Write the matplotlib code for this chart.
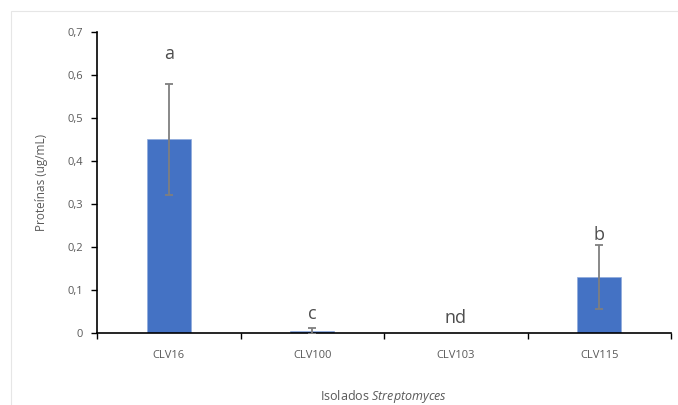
import numpy as np
import matplotlib
matplotlib.use("Agg")
import matplotlib.pyplot as plt
from matplotlib.patches import Rectangle

categories = ["CLV16", "CLV100", "CLV103", "CLV115"]
values = [0.45, 0.005, 0.0, 0.13]
errors = [0.128, 0.007, 0.0, 0.075]
letters = ["a", "c", "nd", "b"]
letter_y = [0.648, 0.045, 0.035, 0.228]
yticks = [0, 0.1, 0.2, 0.3, 0.4, 0.5, 0.6, 0.7]
ytick_labels = ["0", "0,1", "0,2", "0,3", "0,4", "0,5", "0,6", "0,7"]

plt.rcParams['font.family'] = ['Open Sans', 'DejaVu Sans']
plt.rcParams['mathtext.fontset'] = 'custom'
plt.rcParams['mathtext.it'] = 'Open Sans:italic'
plt.rcParams['mathtext.rm'] = 'Open Sans'

fig = plt.figure(figsize=(6.78, 4.05), dpi=100)
# faint chart-area border
fig.patches.append(Rectangle((11/678, -0.1), 1.2, 1 - 11/405 + 0.1, transform=fig.transFigure,
                             fill=False, edgecolor='#e6e6e6', lw=0.8))
ax = fig.add_axes([97/678, 1 - 333/405, (671 - 97)/678, (333 - 32)/405])

x = np.arange(len(categories))
ax.bar(x, values, width=0.31, color='#4472C4', edgecolor='#8faadc', linewidth=0.5, zorder=2)
ax.errorbar(x[[0, 1, 3]], np.array(values)[[0, 1, 3]], yerr=np.array(errors)[[0, 1, 3]],
            fmt='none', ecolor='#7f7f7f', elinewidth=1.3, capsize=3, capthick=1.3, zorder=3)
for xi, t, ly in zip(x, letters, letter_y):
    ax.text(xi, ly, t, ha='center', va='center', fontsize=13, color='#4d4d4d')

ax.set_xlim(-0.5, len(categories) - 0.5)
ax.set_ylim(0, 0.7)
ax.set_yticks(yticks)
ax.set_yticklabels(ytick_labels)
ax.set_xticks(x)
ax.set_xticklabels(categories)
ax.set_xticks(np.arange(-0.5, len(categories)), minor=True)
ax.tick_params(axis='x', which='major', length=0, pad=12, labelsize=8, labelcolor='#595959')
ax.tick_params(axis='x', which='minor', length=4, width=1, direction='out', color='black')
ax.tick_params(axis='y', length=4, width=1, direction='out', labelsize=8, labelcolor='#595959', pad=6)

for s in ['top', 'right']:
    ax.spines[s].set_visible(False)
for s in ['left', 'bottom']:
    ax.spines[s].set_linewidth(1.2)
    ax.spines[s].set_color('black')

ax.set_ylabel("Proteínas (ug/mL)", fontsize=8.5, color='#595959', labelpad=14)
ax.set_xlabel(r"Isolados $\it{Streptomyces}$", fontsize=9, color='#595959', labelpad=20)

fig.savefig("out.png", dpi=100)
